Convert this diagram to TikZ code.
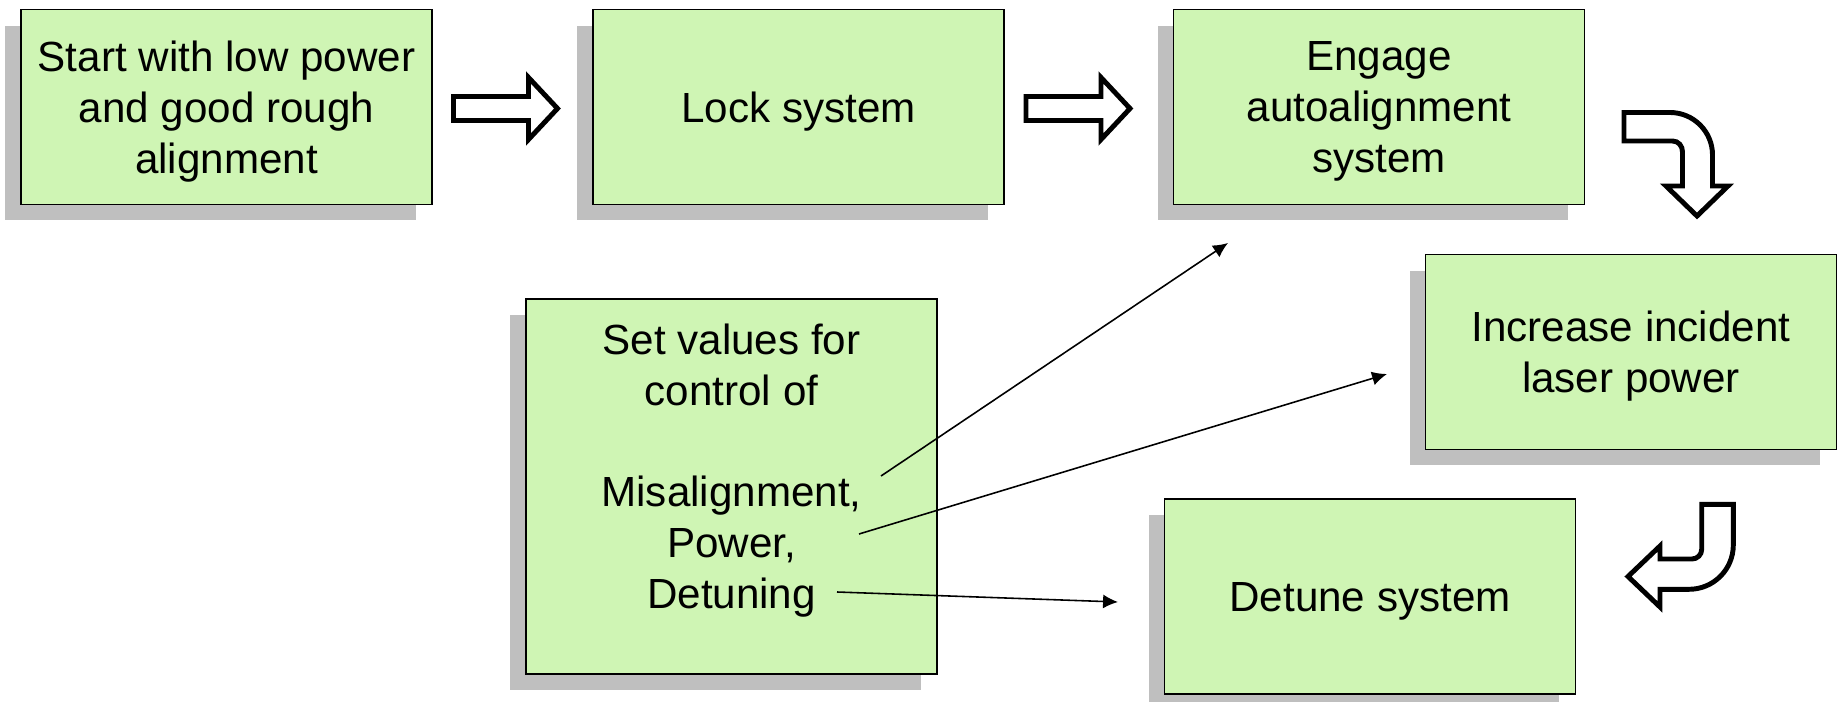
\documentclass[tikz,border=0pt]{standalone}
\usepackage{fontspec}
\setmainfont{Liberation Sans}
\usetikzlibrary{arrows.meta,shadows}
\definecolor{boxgreen}{RGB}{207,245,180}
\definecolor{shadowgray}{RGB}{191,191,191}
\begin{document}
\begin{tikzpicture}[x=0.02cm,y=-0.02cm,
  boxfont/.style={font=\fontsize{24}{28.9}\selectfont},
  stepbox/.style={draw=black, line width=1pt, fill=boxgreen, minimum width=8.22cm,
    minimum height=3.9cm, inner sep=0pt, align=center, boxfont, text depth=0pt,
    general shadow={fill=shadowgray, shadow xshift=-0.32cm, shadow yshift=-0.32cm}},
  blockarrow/.style={draw=black, line width=2.8pt, fill=white, miter limit=10},
  thinarrow/.style={line width=0.9pt, -{Latex[length=8.5pt,width=8pt]}}]
\useasboundingbox (0,0) rectangle (1838,702);

\node[stepbox] (b1) at (226.5,107) {Start with low power\\and good rough\\alignment};
\node[stepbox] (b2) at (798.5,107) {Lock system};
\node[stepbox] (b3) at (1379,107) {Engage\\autoalignment\\system};
\node[stepbox] (b4) at (1631,352) {Increase incident\\laser power};
\node[stepbox] (b5) at (1370,596.5) {Detune system};
\node[stepbox, minimum height=7.5cm] (b6) at (731.5,486.5) {};
\node[boxfont, align=center, anchor=north, inner sep=0pt] (t6) at (731.5,323.6)
  {Set values for\\control of\\[28.9pt]Misalignment,\\Power,\\Detuning};

% straight block arrows
\draw[blockarrow] (453.5,96.5) -- (528.5,96.5) -- (528.5,77.5) -- (557.5,108.5)
  -- (528.5,139.5) -- (528.5,120.5) -- (453.5,120.5) -- cycle;
\begin{scope}[shift={(572.5,0)}]
\draw[blockarrow] (453.5,96.5) -- (528.5,96.5) -- (528.5,77.5) -- (557.5,108.5)
  -- (528.5,139.5) -- (528.5,120.5) -- (453.5,120.5) -- cycle;
\end{scope}

% curved block arrow down
\draw[blockarrow] (1624,112.5) -- (1670,112.5)
  .. controls (1693.5,112.5) and (1712.5,131.5) .. (1712.5,155)
  -- (1712.5,186) -- (1728,186) -- (1697,216) -- (1666,186) -- (1682.5,186)
  -- (1682.5,152) .. controls (1682.5,146) and (1678.5,141) .. (1672.5,141)
  -- (1624,141) -- cycle;

% curved block arrow left
\draw[blockarrow] (1701.7,504.3) -- (1733.3,504.3) -- (1733.3,545)
  .. controls (1733.3,569.5) and (1713.5,589.3) .. (1689,589.3)
  -- (1660,589.3) -- (1660,607) -- (1628,576.5) -- (1660,546) -- (1660,559)
  -- (1692,559) .. controls (1697.4,559) and (1701.7,554.6) .. (1701.7,549.3)
  -- cycle;

% thin arrows
\coordinate (s1) at (881,476);
\coordinate (e1) at (1228,243);
\coordinate (s2) at (859,534);
\coordinate (e2) at (1387,374);
\coordinate (s3) at (837,592);
\coordinate (e3) at (1118,602);
\draw[thinarrow] (s1) -- (e1);
\draw[thinarrow] (s2) -- (e2);
\draw[thinarrow] (s3) -- (e3);
\end{tikzpicture}
\end{document}
